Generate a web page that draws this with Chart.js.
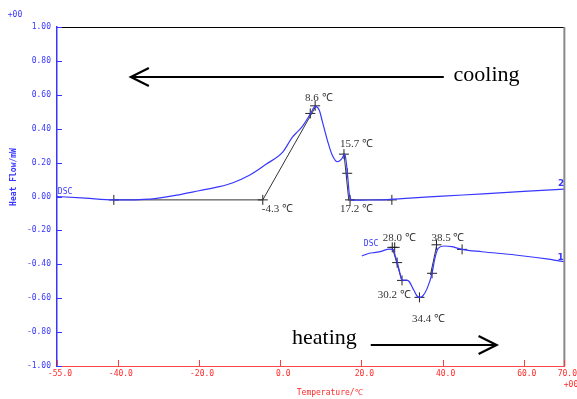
<!DOCTYPE html>
<html><head><meta charset="utf-8">
<script src="https://cdn.jsdelivr.net/npm/chart.js@4.4.1/dist/chart.umd.min.js"></script>
<style>html,body{margin:0;padding:0;background:#fff}#wrap{width:577px;height:399px}</style>
</head><body><div id="wrap"><canvas id="c" width="577" height="399"></canvas></div>
<script>
// ---- data (temperature °C, heat flow mW) ----
const coolingT = [-55,-48,-41,-32,-25,-20,-15,-11.8,-7.6,-3.5,0.6,3.0,4.3,5.5,7.5,8.6,9.6,10.4,11.6,12.8,14.1,15.1,15.9,16.3,16.7,17.1,17.8,20,25,30,40,50,60,70];
const coolingHF = [0.00,-0.01,-0.02,-0.015,0.01,0.034,0.058,0.08,0.125,0.19,0.262,0.35,0.383,0.415,0.49,0.532,0.51,0.44,0.333,0.245,0.205,0.22,0.25,0.196,0.097,0.0,-0.022,-0.021,-0.02,-0.012,0.002,0.016,0.03,0.044];
const heatingT = [20.1,21.9,23.5,25.1,26.8,27.8,28.4,29.0,29.6,30.0,31.0,31.7,32.9,33.7,34.3,35.1,36.2,37.4,38.1,38.9,40.3,42.3,44.8,49.7,57.9,66.1,70];
const heatingHF = [-0.351,-0.335,-0.33,-0.322,-0.31,-0.312,-0.355,-0.404,-0.463,-0.493,-0.493,-0.5,-0.552,-0.587,-0.595,-0.587,-0.542,-0.453,-0.365,-0.306,-0.292,-0.296,-0.312,-0.326,-0.345,-0.37,-0.385];
// tangent / baseline segments [T1,HF1,T2,HF2]
const tangentLines = [
  [-41,-0.02,-4.3,-0.02],[-4.3,-0.02,8.8,0.534],[15.7,0.255,16.9,-0.025],[17.2,-0.02,27.5,-0.02],
  [27.6,-0.30,30.0,-0.50],[37.0,-0.463,38.6,-0.282]
];
// analysis markers
const markerT  = [-41,-4.3,7.4,8.6,15.7,16.5,17.2,27.5, 27.6,28.2,28.8,30.0,34.3,37.4,38.5,44.8];
const markerHF = [-0.02,-0.02,0.49,0.535,0.25,0.137,-0.02,-0.02, -0.30,-0.30,-0.39,-0.495,-0.595,-0.453,-0.285,-0.312];
// temperature annotations
const annoText = ['8.6 ℃','15.7 ℃','-4.3 ℃','17.2 ℃','28.0 ℃','38.5 ℃','30.2 ℃','34.4 ℃'];
const annoT    = [9.5,18.8,-0.7,18.8,29.3,41.3,28.1,36.5];
const annoHF   = [0.581,0.31,-0.076,-0.076,-0.247,-0.247,-0.581,-0.723];
const xTicks = [-55,-40,-20,0,20,40,60,70];
const yMin = -1, yMax = 1, yStep = 0.2;

const pts = (xs, ys) => xs.map((x,i)=>({x, y: ys[i]}));
const BLUE = 'rgb(55,55,255)';

const datasets = [
  {data: pts(coolingT, coolingHF), borderColor: BLUE, borderWidth: 1.2, showLine: true, pointRadius: 0, cubicInterpolationMode: 'monotone'},
  {data: pts(heatingT, heatingHF), borderColor: BLUE, borderWidth: 1.2, showLine: true, pointRadius: 0, cubicInterpolationMode: 'monotone'}
];
tangentLines.forEach(s => datasets.push({data: [{x:s[0],y:s[1]},{x:s[2],y:s[3]}], borderColor: '#333', borderWidth: 1, showLine: true, pointRadius: 0}));
datasets.push({data: pts(markerT, markerHF), showLine: false, pointStyle: 'cross', pointRadius: 5, borderColor: '#222', borderWidth: 1, backgroundColor: '#222'});

const deco = {
  id: 'deco',
  afterDraw(chart) {
    const {ctx, chartArea: a, scales: {x, y}} = chart;
    ctx.save();
    // frame
    ctx.strokeStyle = '#000'; ctx.lineWidth = 1;
    ctx.beginPath(); ctx.moveTo(a.left, a.top + 0.5); ctx.lineTo(a.right, a.top + 0.5); ctx.stroke();
    ctx.strokeStyle = '#888'; ctx.lineWidth = 2;
    ctx.beginPath(); ctx.moveTo(a.right, a.top); ctx.lineTo(a.right, a.bottom); ctx.stroke();
    // inward ticks
    ctx.lineWidth = 1; ctx.strokeStyle = BLUE;
    y.ticks.forEach(t => { const py = Math.round(y.getPixelForValue(t.value)) + 0.5; ctx.beginPath(); ctx.moveTo(a.left, py); ctx.lineTo(a.left + 5, py); ctx.stroke(); });
    ctx.strokeStyle = 'rgb(255,60,60)';
    x.ticks.forEach(t => { const px = Math.round(x.getPixelForValue(t.value)) + 0.5; ctx.beginPath(); ctx.moveTo(px, a.bottom); ctx.lineTo(px, a.bottom - 6); ctx.stroke(); });
    // annotations
    ctx.fillStyle = '#333'; ctx.font = '11px "Liberation Serif", serif'; ctx.textAlign = 'center'; ctx.textBaseline = 'middle';
    annoText.forEach((s,i) => ctx.fillText(s, x.getPixelForValue(annoT[i]), y.getPixelForValue(annoHF[i])));
    // curve labels
    ctx.fillStyle = BLUE; ctx.font = '8px "DejaVu Sans Mono", monospace'; ctx.textAlign = 'left'; ctx.textBaseline = 'bottom';
    ctx.fillText('DSC', x.getPixelForValue(-54.8), y.getPixelForValue(0.005));
    ctx.fillText('DSC', x.getPixelForValue(20.6), y.getPixelForValue(-0.305));
    ctx.font = 'bold 9px "DejaVu Sans", sans-serif'; ctx.textAlign = 'center'; ctx.textBaseline = 'middle';
    ctx.fillText('2', x.getPixelForValue(69.2), y.getPixelForValue(0.074));
    ctx.fillText('1', x.getPixelForValue(69.1), y.getPixelForValue(-0.359));
    // cooling / heating arrows
    ctx.strokeStyle = '#000'; ctx.fillStyle = '#000'; ctx.lineWidth = 2.2;
    const arrow = (t1, t2, hv) => {
      const p1 = x.getPixelForValue(t1), p2 = x.getPixelForValue(t2), py = y.getPixelForValue(hv);
      const d = p2 > p1 ? -1 : 1;
      ctx.beginPath(); ctx.moveTo(p1, py); ctx.lineTo(p2, py); ctx.stroke();
      ctx.beginPath(); ctx.moveTo(p2 + d * 18, py - 9); ctx.lineTo(p2, py); ctx.lineTo(p2 + d * 18, py + 9); ctx.stroke();
    };
    arrow(40.3, -36.8, 0.705);
    arrow(22.3, 53.3, -0.876);
    ctx.font = '22px "Liberation Serif", serif'; ctx.textAlign = 'left'; ctx.textBaseline = 'middle';
    ctx.fillText('cooling', x.getPixelForValue(42.7), y.getPixelForValue(0.715));
    ctx.fillText('heating', x.getPixelForValue(2.9), y.getPixelForValue(-0.835));
    // axis titles and exponents
    ctx.font = '8px "DejaVu Sans Mono", monospace';
    ctx.fillStyle = 'rgb(255,40,40)'; ctx.textAlign = 'center';
    ctx.fillText('Temperature/℃', (a.left + a.right) / 2 + 19, 393);
    ctx.fillText('+00', 571, 385);
    ctx.fillStyle = BLUE;
    ctx.fillText('+00', 15, 15);
    ctx.save(); ctx.translate(14, 177); ctx.rotate(-Math.PI / 2);
    ctx.font = 'bold 8px "DejaVu Sans Mono", monospace';
    ctx.fillText('Heat Flow/mW', 0, 0); ctx.restore();
    ctx.restore();
  }
};

new Chart(document.getElementById('c'), {
  type: 'scatter',
  data: {datasets},
  options: {
    responsive: false, animation: false, events: [],
    layout: {padding: {top: 27, right: 11, left: 0, bottom: 0}},
    plugins: {legend: {display: false}, tooltip: {enabled: false}},
    scales: {
      x: {
        type: 'linear', min: xTicks[0], max: xTicks[xTicks.length - 1],
        afterBuildTicks: s => { s.ticks = xTicks.map(v => ({value: v})); },
        afterFit: s => { s.height = 33; },
        grid: {display: false, drawTicks: false},
        border: {display: true, color: 'rgb(255,70,70)', width: 1},
        ticks: {color: 'rgb(255,40,40)', font: {size: 8, family: '"DejaVu Sans Mono", monospace'}, padding: 3, labelOffset: 3, maxRotation: 0, autoSkip: false, callback: v => Number(v).toFixed(1)}
      },
      y: {
        type: 'linear', min: yMin, max: yMax,
        afterFit: s => { s.width = 57; },
        grid: {display: false, drawTicks: false},
        border: {display: true, color: BLUE, width: 1.5},
        ticks: {stepSize: yStep, color: BLUE, font: {size: 8, family: '"DejaVu Sans Mono", monospace'}, padding: 6, callback: v => Number(v).toFixed(2)}
      }
    }
  },
  plugins: [deco]
});
</script></body></html>
